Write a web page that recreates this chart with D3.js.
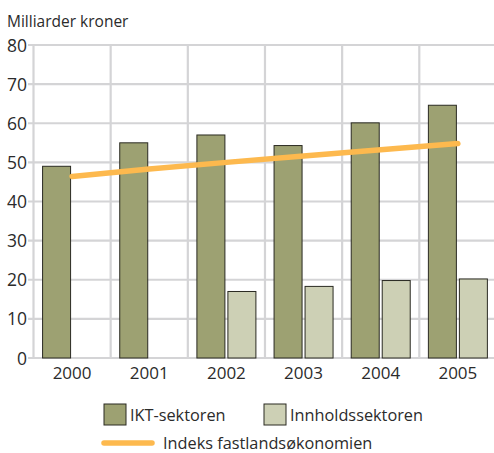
<!DOCTYPE html>
<html><head><meta charset="utf-8">
<script src="https://cdn.jsdelivr.net/npm/d3@7"></script>
<style>
body{margin:0;background:#fff;}
text{font-family:"Open Sans",sans-serif;fill:#2b2b2b;}
</style></head>
<body><svg id="c" width="494" height="453"></svg>
<script>
const years = ["2000","2001","2002","2003","2004","2005"];
const series = ["IKT-sektoren","Innholdssektoren"];
const iktValues = [49, 55, 57, 54.3, 60.1, 64.6];
const innholdValues = [null, null, 17, 18.3, 19.8, 20.2];
const indeksValues = [46.4, 48.3, 50.0, 51.6, 53.2, 54.8];
const yTicks = [0,10,20,30,40,50,60,70,80];
const lineLabel = "Indeks fastlandsøkonomien";
const yTitle = "Milliarder kroner";

const colors = {"IKT-sektoren":"#9da172","Innholdssektoren":"#cdd0b5"};
const grid = "#d4d4d6";
const svg = d3.select("#c");
const left = 33.5, step = 77.16;
const x = d3.scaleBand().domain(years).range([left, left + step*years.length]).padding(0);
const y = d3.scaleLinear().domain([0,80]).range([358,45]);
const xs = d3.scaleBand().domain(series).range([9.08, 68.08]).paddingInner(3/31).paddingOuter(0);

svg.append("g").selectAll("line").data(yTicks).join("line")
  .attr("x1",28).attr("x2",494).attr("y1",d=>y(d)).attr("y2",d=>y(d))
  .attr("stroke",grid).attr("stroke-width",2.2);
svg.append("g").selectAll("line").data(years).join("line")
  .attr("x1",d=>x(d)).attr("x2",d=>x(d)).attr("y1",y(80)-1).attr("y2",y(0))
  .attr("stroke",grid).attr("stroke-width",2.2);

svg.append("g").selectAll("text").data(yTicks).join("text")
  .attr("x",27).attr("y",d=>y(d)+6.5).attr("text-anchor","end")
  .attr("font-size",17.5).text(d=>d);
svg.append("g").selectAll("text").data(years).join("text")
  .attr("x",d=>x(d)+x.bandwidth()/2).attr("y",379).attr("text-anchor","middle")
  .attr("font-size",17).text(d=>d);
svg.append("text").attr("x",7).attr("y",27).attr("font-size",15.5).text(yTitle);

const rows = years.map((yr,i)=>({year:yr, vals:[{s:series[0],v:iktValues[i]},{s:series[1],v:innholdValues[i]}]}));
svg.append("g").selectAll("g").data(rows).join("g")
  .attr("transform",d=>`translate(${x(d.year)},0)`)
  .selectAll("rect").data(d=>d.vals.filter(e=>e.v!=null)).join("rect")
  .attr("x",d=>xs(d.s)).attr("width",xs.bandwidth())
  .attr("y",d=>y(d.v)).attr("height",d=>y(0)-y(d.v))
  .attr("fill",d=>colors[d.s]).attr("stroke","#2a2a22").attr("stroke-width",1);

const line = d3.line().x((d,i)=>x(years[i])+x.bandwidth()/2).y(d=>y(d));
svg.append("path").datum(indeksValues).attr("d",line)
  .attr("fill","none").attr("stroke","#fdb94e").attr("stroke-width",5.5).attr("stroke-linecap","round");

const lg = svg.append("g");
lg.append("rect").attr("x",104).attr("y",404).attr("width",22).attr("height",21)
  .attr("fill",colors[series[0]]).attr("stroke","#2a2a22");
lg.append("text").attr("x",130).attr("y",421).attr("font-size",16.3).text(series[0]);
lg.append("rect").attr("x",264).attr("y",404).attr("width",22).attr("height",21)
  .attr("fill",colors[series[1]]).attr("stroke","#2a2a22");
lg.append("text").attr("x",290).attr("y",421).attr("font-size",16.3).text(series[1]);
lg.append("line").attr("x1",104).attr("x2",152).attr("y1",443).attr("y2",443)
  .attr("stroke","#fdb94e").attr("stroke-width",5.5).attr("stroke-linecap","round");
lg.append("text").attr("x",163).attr("y",449).attr("font-size",16.3).text(lineLabel);
</script></body></html>
